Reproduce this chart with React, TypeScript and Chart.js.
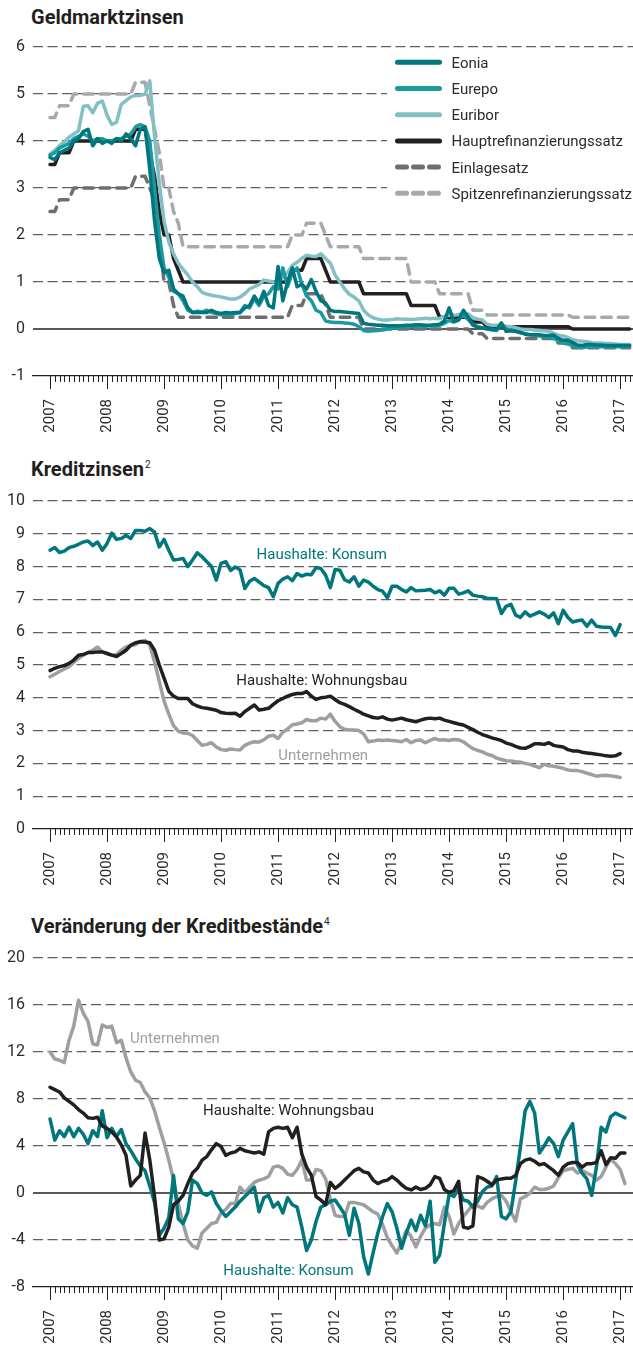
import React, { useEffect, useRef } from 'react';
import { Chart, registerables } from 'chart.js';

Chart.register(...registerables);

const FONT = 'Roboto, "Noto Sans", sans-serif';
const TEXT = '#2b2b2b';
const AXIS = '#231f20';
const GRID = '#5f6062';

const TEAL_DARK = '#00767d';
const TEAL_MID = '#1a9aa0';
const TEAL_LIGHT = '#82c0c5';
const BLACK = '#231f20';
const GRAY_DARK = '#6d6e71';
const GRAY_LIGHT = '#a7a9ac';
const GRAY_LINE = '#9d9fa2';

// x axis: months since January 2007
const yearLabels = ['2007', '2008', '2009', '2010', '2011', '2012', '2013', '2014', '2015', '2016', '2017'];
const X_MIN = -3.58;
const X_MAX = 122.7;
const LAST_MONTH_TICK = 122;

// ---------- Geldmarktzinsen (monthly, Jan 2007 - Mar 2017) ----------
const eonia = [
  3.65, 3.6, 3.75, 3.8, 3.85, 4.0, 4.05, 4.2, 4.25, 3.9, 4.05, 3.95,
  4.0, 3.95, 4.05, 4.0, 4.15, 4.05, 3.9, 4.25, 4.3, 3.4, 2.3, 1.5,
  1.2, 1.25, 0.85, 0.75, 0.7, 0.45, 0.35, 0.35, 0.35, 0.35, 0.4, 0.35,
  0.33, 0.35, 0.34, 0.35, 0.35, 0.45, 0.5, 0.7, 0.55, 0.8, 0.5, 0.45,
  1.33, 0.6, 1.0, 1.3, 0.9, 0.95, 0.85, 1.05, 0.8, 0.6, 0.55, 0.4,
  0.37, 0.37, 0.36, 0.35, 0.34, 0.33, 0.12, 0.1, 0.09, 0.08, 0.08, 0.07,
  0.07, 0.07, 0.07, 0.08, 0.08, 0.09, 0.09, 0.08, 0.08, 0.09, 0.1, 0.17,
  0.45, 0.16, 0.19, 0.4, 0.25, 0.08, 0.04, 0.02, 0.01, 0.0, -0.01, 0.13,
  -0.05, -0.04, -0.05, -0.07, -0.11, -0.12, -0.12, -0.12, -0.14, -0.14, -0.13, -0.2,
  -0.24, -0.24, -0.29, -0.34, -0.35, -0.33, -0.33, -0.34, -0.34, -0.35, -0.35, -0.35,
  -0.35, -0.35, -0.35,
];
const eurepo = [
  3.7, 3.75, 3.85, 3.9, 3.95, 4.05, 4.1, 4.15, 4.1, 4.0, 4.05, 4.05,
  4.0, 4.0, 4.05, 4.05, 4.1, 4.15, 4.3, 4.35, 4.3, 4.0, 3.0, 2.0,
  1.3, 1.1, 0.8, 0.75, 0.6, 0.4, 0.35, 0.38, 0.36, 0.4, 0.35, 0.33,
  0.3, 0.32, 0.3, 0.33, 0.35, 0.5, 0.45, 0.65, 0.5, 0.7, 0.75, 0.9,
  0.85, 1.3, 0.9, 1.2, 1.3, 0.95, 0.7, 0.6, 0.4, 0.35, 0.17, 0.15,
  0.14, 0.14, 0.13, 0.12, 0.1, 0.05, -0.03, -0.05, -0.04, -0.03, -0.02, 0.0,
  0.02, 0.03, 0.04, 0.05, 0.05, 0.06, 0.05, 0.06, 0.07, 0.07, 0.08, 0.12,
  0.18, 0.15, 0.2, 0.3, 0.2, 0.1, 0.05, 0.02, 0.0, -0.02, -0.03, 0.1,
  0.0, -0.03, -0.05, -0.08, -0.1, -0.12, -0.13, -0.15, -0.16, -0.17, -0.2, -0.25,
  -0.3, -0.32, -0.35, -0.38, -0.4, -0.38, -0.37, -0.38, -0.37, -0.38, -0.37, -0.38,
  -0.37, -0.38, -0.36,
];
const euribor = [
  3.72, 3.8, 3.9, 3.98, 4.08, 4.15, 4.22, 4.74, 4.75, 4.6, 4.8, 4.85,
  4.55, 4.35, 4.4, 4.78, 4.86, 4.94, 4.97, 4.97, 5.0, 5.28, 4.1, 3.1,
  2.3, 1.85, 1.6, 1.4, 1.27, 1.15, 1.0, 0.9, 0.78, 0.74, 0.72, 0.7,
  0.68, 0.66, 0.64, 0.64, 0.68, 0.75, 0.85, 0.9, 0.95, 1.04, 1.02, 1.0,
  0.97, 1.1, 1.2, 1.35, 1.42, 1.5, 1.57, 1.55, 1.54, 1.6, 1.5, 1.4,
  1.15, 1.0, 0.85, 0.74, 0.68, 0.6, 0.4, 0.3, 0.24, 0.21, 0.19, 0.19,
  0.2, 0.22, 0.21, 0.21, 0.2, 0.21, 0.22, 0.23, 0.22, 0.23, 0.22, 0.27,
  0.29, 0.29, 0.31, 0.33, 0.32, 0.24, 0.21, 0.19, 0.1, 0.08, 0.08, 0.08,
  0.06, 0.05, 0.03, 0.0, -0.01, -0.01, -0.02, -0.03, -0.04, -0.05, -0.09, -0.13,
  -0.15, -0.18, -0.23, -0.25, -0.26, -0.27, -0.29, -0.3, -0.3, -0.31, -0.31, -0.32,
  -0.33, -0.33, -0.33,
];
const hauptrefi = [
  3.5, 3.5, 3.75, 3.75, 3.75, 4.0, 4.0, 4.0, 4.0, 4.0, 4.0, 4.0,
  4.0, 4.0, 4.0, 4.0, 4.0, 4.0, 4.25, 4.25, 4.25, 3.75, 3.25, 2.5,
  2.0, 2.0, 1.5, 1.25, 1.0, 1.0, 1.0, 1.0, 1.0, 1.0, 1.0, 1.0,
  1.0, 1.0, 1.0, 1.0, 1.0, 1.0, 1.0, 1.0, 1.0, 1.0, 1.0, 1.0,
  1.0, 1.0, 1.0, 1.25, 1.25, 1.25, 1.5, 1.5, 1.5, 1.5, 1.25, 1.0,
  1.0, 1.0, 1.0, 1.0, 1.0, 1.0, 0.75, 0.75, 0.75, 0.75, 0.75, 0.75,
  0.75, 0.75, 0.75, 0.75, 0.5, 0.5, 0.5, 0.5, 0.5, 0.5, 0.25, 0.25,
  0.25, 0.25, 0.25, 0.25, 0.25, 0.15, 0.15, 0.15, 0.05, 0.05, 0.05, 0.05,
  0.05, 0.05, 0.05, 0.05, 0.05, 0.05, 0.05, 0.05, 0.05, 0.05, 0.05, 0.05,
  0.05, 0.05, 0.0, 0.0, 0.0, 0.0, 0.0, 0.0, 0.0, 0.0, 0.0, 0.0,
  0.0, 0.0, 0.0,
];
const einlage = [
  2.5, 2.5, 2.75, 2.75, 2.75, 3.0, 3.0, 3.0, 3.0, 3.0, 3.0, 3.0,
  3.0, 3.0, 3.0, 3.0, 3.0, 3.0, 3.25, 3.25, 3.25, 3.0, 2.75, 2.0,
  1.0, 1.0, 0.5, 0.25, 0.25, 0.25, 0.25, 0.25, 0.25, 0.25, 0.25, 0.25,
  0.25, 0.25, 0.25, 0.25, 0.25, 0.25, 0.25, 0.25, 0.25, 0.25, 0.25, 0.25,
  0.25, 0.25, 0.25, 0.5, 0.5, 0.5, 0.75, 0.75, 0.75, 0.75, 0.5, 0.25,
  0.25, 0.25, 0.25, 0.25, 0.25, 0.25, 0.0, 0.0, 0.0, 0.0, 0.0, 0.0,
  0.0, 0.0, 0.0, 0.0, 0.0, 0.0, 0.0, 0.0, 0.0, 0.0, 0.0, 0.0,
  0.0, 0.0, 0.0, 0.0, 0.0, -0.1, -0.1, -0.1, -0.2, -0.2, -0.2, -0.2,
  -0.2, -0.2, -0.2, -0.2, -0.2, -0.2, -0.2, -0.2, -0.2, -0.2, -0.2, -0.3,
  -0.3, -0.3, -0.4, -0.4, -0.4, -0.4, -0.4, -0.4, -0.4, -0.4, -0.4, -0.4,
  -0.4, -0.4, -0.4,
];
const spitzenrefi = [
  4.5, 4.5, 4.75, 4.75, 4.75, 5.0, 5.0, 5.0, 5.0, 5.0, 5.0, 5.0,
  5.0, 5.0, 5.0, 5.0, 5.0, 5.0, 5.25, 5.25, 5.25, 4.75, 4.25, 3.75,
  3.0, 3.0, 2.5, 2.25, 1.75, 1.75, 1.75, 1.75, 1.75, 1.75, 1.75, 1.75,
  1.75, 1.75, 1.75, 1.75, 1.75, 1.75, 1.75, 1.75, 1.75, 1.75, 1.75, 1.75,
  1.75, 1.75, 1.75, 2.0, 2.0, 2.0, 2.25, 2.25, 2.25, 2.25, 2.0, 1.75,
  1.75, 1.75, 1.75, 1.75, 1.75, 1.75, 1.5, 1.5, 1.5, 1.5, 1.5, 1.5,
  1.5, 1.5, 1.5, 1.5, 1.0, 1.0, 1.0, 1.0, 1.0, 1.0, 0.75, 0.75,
  0.75, 0.75, 0.75, 0.75, 0.75, 0.4, 0.4, 0.4, 0.3, 0.3, 0.3, 0.3,
  0.3, 0.3, 0.3, 0.3, 0.3, 0.3, 0.3, 0.3, 0.3, 0.3, 0.3, 0.3,
  0.3, 0.3, 0.25, 0.25, 0.25, 0.25, 0.25, 0.25, 0.25, 0.25, 0.25, 0.25,
  0.25, 0.25, 0.25,
];

// ---------- Kreditzinsen (monthly, Jan 2007 - Jan 2017) ----------
const zinsKonsum = [
  8.5, 8.58, 8.43, 8.47, 8.58, 8.62, 8.68, 8.75, 8.78, 8.64, 8.75, 8.5,
  8.7, 9.02, 8.83, 8.86, 8.95, 8.86, 9.1, 9.1, 9.08, 9.16, 9.05, 8.6,
  8.83, 8.5, 8.2, 8.22, 8.25, 8.0, 8.2, 8.42, 8.3, 8.15, 8.0, 7.59,
  8.1, 8.15, 7.88, 7.99, 7.9, 7.33, 7.55, 7.64, 7.53, 7.42, 7.36, 7.08,
  7.49, 7.62, 7.69, 7.57, 7.79, 7.71, 7.77, 7.75, 7.97, 7.94, 7.74, 7.36,
  7.91, 7.89, 7.6, 7.53, 7.69, 7.4, 7.59, 7.53, 7.4, 7.3, 7.25, 7.05,
  7.4, 7.4, 7.3, 7.23, 7.36, 7.26, 7.27, 7.28, 7.3, 7.2, 7.26, 7.13,
  7.34, 7.34, 7.16, 7.2, 7.26, 7.13, 7.1, 7.08, 7.03, 7.03, 7.02, 6.57,
  6.79, 6.85, 6.52, 6.45, 6.62, 6.49, 6.55, 6.62, 6.55, 6.45, 6.59, 6.26,
  6.67, 6.45, 6.31, 6.35, 6.37, 6.18, 6.37, 6.18, 6.16, 6.15, 6.14, 5.9,
  6.23,
];
const zinsWohnungsbau = [
  4.83, 4.9, 4.95, 4.98, 5.05, 5.15, 5.3, 5.32, 5.38, 5.38, 5.4, 5.4,
  5.35, 5.3, 5.26, 5.35, 5.45, 5.6, 5.68, 5.71, 5.7, 5.68, 5.45, 5.0,
  4.6, 4.2, 4.05, 3.98, 3.98, 3.98, 3.82, 3.75, 3.7, 3.68, 3.65, 3.62,
  3.55, 3.53, 3.52, 3.53, 3.44, 3.58, 3.68, 3.78, 3.63, 3.65, 3.68, 3.8,
  3.91, 3.98, 4.05, 4.1, 4.13, 4.13, 4.19, 4.05, 3.95, 4.0, 4.02, 4.05,
  3.95, 3.85, 3.8, 3.73, 3.65, 3.58, 3.5, 3.45, 3.4, 3.38, 3.42, 3.35,
  3.32, 3.35, 3.38, 3.33, 3.3, 3.27, 3.32, 3.36, 3.38, 3.36, 3.38, 3.32,
  3.28, 3.24, 3.2, 3.17, 3.1, 3.03, 2.95, 2.88, 2.83, 2.78, 2.74, 2.7,
  2.62, 2.58, 2.52, 2.47, 2.46, 2.52, 2.6, 2.6, 2.58, 2.63, 2.55, 2.52,
  2.5, 2.42, 2.38, 2.38, 2.34, 2.32, 2.3, 2.28, 2.26, 2.23, 2.22, 2.23,
  2.3,
];
const zinsUnternehmen = [
  4.64, 4.72, 4.8, 4.88, 4.95, 5.08, 5.2, 5.3, 5.38, 5.45, 5.55, 5.4,
  5.35, 5.3, 5.32, 5.45, 5.55, 5.6, 5.62, 5.72, 5.75, 5.6, 5.1, 4.5,
  3.9, 3.5, 3.15, 2.98, 2.93, 2.92, 2.85, 2.7, 2.55, 2.58, 2.63, 2.5,
  2.42, 2.4, 2.44, 2.42, 2.41, 2.55, 2.62, 2.66, 2.65, 2.72, 2.83, 2.86,
  2.76, 2.95, 3.05, 3.18, 3.2, 3.24, 3.34, 3.3, 3.3, 3.38, 3.35, 3.5,
  3.28, 3.12, 3.04, 3.02, 3.02, 3.0, 2.9, 2.66, 2.68, 2.71, 2.7, 2.71,
  2.7, 2.68, 2.66, 2.73, 2.63, 2.7, 2.71, 2.63, 2.7, 2.76, 2.71, 2.72,
  2.7, 2.73, 2.72, 2.66, 2.55, 2.45, 2.4, 2.35, 2.28, 2.24, 2.16, 2.12,
  2.08, 2.07, 2.05, 2.04, 2.0, 1.97, 1.92, 1.87, 1.97, 1.93, 1.91, 1.88,
  1.85, 1.8, 1.78, 1.78, 1.75, 1.7, 1.66, 1.61, 1.63, 1.64, 1.62, 1.6,
  1.57,
];

// ---------- Veraenderung der Kreditbestaende (monthly, Jan 2007 - Feb 2017) ----------
const bestandWohnungsbau = [
  9.0, 8.8, 8.6, 8.1, 7.8, 7.5, 7.1, 6.8, 6.4, 6.35, 6.45, 5.7,
  5.5, 5.2, 4.75, 4.1, 3.2, 0.6, 1.1, 1.5, 5.1, 2.8, -0.3, -4.0,
  -3.9, -2.9, -1.0, -0.7, -0.2, 0.8, 1.7, 2.1, 2.8, 3.1, 3.7, 4.2,
  3.95, 3.2, 3.4, 3.5, 3.8, 3.6, 3.5, 3.4, 3.5, 3.3, 5.2, 5.5,
  5.6, 5.5, 5.6, 4.7, 5.6, 3.3, 2.2, 1.5, -0.3, -0.6, -1.0, 0.9,
  0.4, 0.7, 1.1, 1.5, 1.9, 2.1, 1.8, 1.7, 1.1, 0.8, 1.0, 1.1,
  1.4, 1.1, 0.7, 0.4, 0.26, 0.5, 0.3, 0.4, 0.7, 1.4, 1.25, 0.3,
  0.05, 0.2, 1.0, -2.9, -3.0, -2.8, 1.4, 1.25, 1.0, 0.7, 1.1, 1.2,
  1.25, 1.25, 1.5, 2.5, 2.8, 2.9, 2.7, 2.4, 2.5, 2.2, 1.9, 1.5,
  2.2, 2.5, 2.6, 2.6, 2.2, 2.5, 2.5, 2.6, 3.6, 2.4, 3.0, 2.95,
  3.4, 3.4,
];
const bestandKonsum = [
  6.3, 4.5, 5.3, 4.8, 5.6, 4.8, 5.5, 5.0, 4.2, 5.3, 4.8, 7.0,
  4.7, 5.5, 4.8, 5.4, 4.2, 3.6, 2.9, 2.3, 1.9, 0.6, -0.8, -3.6,
  -3.0, -2.1, 1.5, -2.2, -2.6, -1.6, 1.1, 0.8, 0.0, -0.2, 0.1, -0.9,
  -1.5, -2.0, -1.6, -1.2, -0.7, -0.3, 0.1, 0.5, -1.6, -0.4, -0.2, -1.2,
  -0.8, -1.7, -0.4, -1.0, -1.2, -2.9, -4.9, -4.0, -2.4, -1.2, -1.0, -0.7,
  -0.6, -1.2, -1.8, -3.6, -1.3, -2.6, -5.4, -6.9, -5.1, -3.4, -2.0, -0.9,
  -1.6, -3.0, -4.7, -3.4, -2.3, -3.2, -1.9, -2.8, -0.7, -5.9, -5.3, -2.6,
  -0.1, -0.3, 0.4, -0.6, -0.7, -1.2, -0.7, 0.1, 0.5, 0.6, 1.4, -2.0,
  -2.2, -1.6, 1.0, 3.9, 7.0, 7.8, 6.8, 3.4, 4.0, 4.7, 4.2, 3.1,
  4.5, 5.2, 5.9, 2.4, 1.7, 1.2, -0.2, 2.2, 5.6, 5.2, 6.5, 6.8,
  6.6, 6.4,
];
const bestandUnternehmen = [
  12.0, 11.4, 11.3, 11.1, 13.0, 14.2, 16.4, 15.3, 14.6, 12.7, 12.6, 14.3,
  14.1, 14.2, 12.8, 13.0, 11.5, 10.3, 9.6, 9.4, 8.6, 8.1, 7.0, 5.6,
  4.3, 2.8, 1.1, -0.9, -2.6, -4.0, -4.5, -4.7, -3.4, -3.0, -2.6, -2.5,
  -1.7, -1.4, -0.9, -0.9, 0.5, 0.0, 0.5, 0.9, 1.1, 1.2, 1.4, 2.2,
  2.3, 2.1, 1.6, 1.5, 2.0, 2.8, 1.1, 1.1, 2.0, 1.9, 1.2, -0.5,
  -1.9, -2.0, -2.0, -0.8, -0.8, -0.9, -1.0, -1.3, -1.6, -1.8, -2.7, -3.8,
  -4.5, -5.1, -4.2, -3.2, -3.7, -4.6, -3.7, -3.0, -2.7, -2.6, -2.7, -1.2,
  -2.0, -3.5, -2.6, -2.0, -1.5, -1.0, -1.1, -1.3, -0.8, -0.5, -0.3, -0.2,
  -0.7, -1.6, -2.4, -0.5, -0.3, 0.0, 0.5, 0.3, 0.3, 0.4, 0.6, 1.3,
  1.9, 2.0, 2.1, 1.7, 1.9, 1.7, 1.5, 1.1, 1.4, 2.2, 2.9, 2.5,
  2.0, 0.8,
];

type Series = { label: string; data: number[]; color: string; width: number; dash?: number[] };
type Note = { text: string; x: number; y: number; color: string };

const DASH = [9.5, 7];
const TEXT_SIZE = 15;

const zeroLinePlugin = {
  id: 'zeroLine',
  beforeDatasetsDraw(chart: any) {
    const ys = chart.scales.y;
    if (ys.min >= 0) return;
    const { left, right } = chart.chartArea;
    const py = ys.getPixelForValue(0);
    const ctx = chart.ctx;
    ctx.save();
    ctx.strokeStyle = AXIS;
    ctx.lineWidth = 1.3;
    ctx.beginPath();
    ctx.moveTo(left, py);
    ctx.lineTo(right, py);
    ctx.stroke();
    ctx.restore();
  },
};

const monthTicksPlugin = {
  id: 'monthTicks',
  afterDraw(chart: any) {
    const xs = chart.scales.x;
    const bottom = chart.chartArea.bottom;
    const ctx = chart.ctx;
    ctx.save();
    ctx.strokeStyle = AXIS;
    ctx.lineWidth = 1;
    ctx.beginPath();
    for (let m = 0; m <= LAST_MONTH_TICK; m++) {
      const px = Math.round(xs.getPixelForValue(m)) + 0.5;
      const len = m % 12 === 0 ? 13 : 6;
      ctx.moveTo(px, bottom);
      ctx.lineTo(px, bottom + len);
    }
    ctx.stroke();
    ctx.restore();
  },
};

const notesPlugin = (notes: Note[]) => ({
  id: 'notes',
  afterDatasetsDraw(chart: any) {
    const ctx = chart.ctx;
    const xs = chart.scales.x;
    const ys = chart.scales.y;
    ctx.save();
    ctx.font = `${TEXT_SIZE}px ${FONT}`;
    ctx.textAlign = 'center';
    ctx.textBaseline = 'alphabetic';
    notes.forEach((n) => {
      ctx.fillStyle = n.color;
      ctx.fillText(n.text, xs.getPixelForValue(n.x), ys.getPixelForValue(n.y) + 5.4);
    });
    ctx.restore();
  },
});

const legendPlugin = {
  id: 'boxLegend',
  afterDatasetsDraw(chart: any) {
    const ctx = chart.ctx;
    ctx.save();
    ctx.fillStyle = '#ffffff';
    ctx.fillRect(387, 50, 246, 157);
    chart.data.datasets.forEach((ds: any, i: number) => {
      const y = 62.3 + i * 26.2;
      ctx.beginPath();
      ctx.lineWidth = 5;
      ctx.lineCap = 'round';
      ctx.strokeStyle = ds.borderColor;
      const dashed = ds.borderDash && ds.borderDash.length > 0;
      ctx.setLineDash(dashed ? [9, 7] : []);
      ctx.moveTo(397.5, y);
      ctx.lineTo(dashed ? 438.5 : 439.5, y);
      ctx.stroke();
      ctx.setLineDash([]);
      ctx.fillStyle = TEXT;
      ctx.font = `${TEXT_SIZE}px ${FONT}`;
      ctx.textAlign = 'left';
      ctx.textBaseline = 'alphabetic';
      ctx.fillText(ds.label, 451.5, y + 5.4);
    });
    ctx.restore();
  },
};

function buildConfig(p: {
  series: Series[];
  yMin: number;
  yMax: number;
  yStep: number;
  areaTop: number;
  axisHeight: number;
  notes: Note[];
  legend?: boolean;
}): any {
  const plugins: any[] = [zeroLinePlugin, monthTicksPlugin, notesPlugin(p.notes)];
  if (p.legend) plugins.push(legendPlugin);
  return {
    type: 'line',
    data: {
      datasets: p.series.map((s) => ({
        label: s.label,
        data: s.data.map((v, i) => ({ x: i, y: v })),
        borderColor: s.color,
        backgroundColor: s.color,
        borderWidth: s.width,
        borderDash: s.dash || [],
        borderCapStyle: 'round',
        borderJoinStyle: 'round',
        pointRadius: 0,
        pointHoverRadius: 0,
        fill: false,
        tension: 0,
      })),
    },
    options: {
      responsive: false,
      animation: false,
      devicePixelRatio: 1,
      events: [],
      layout: { padding: { top: p.areaTop, left: 0, right: 0, bottom: 0 } },
      plugins: { legend: { display: false }, tooltip: { enabled: false }, title: { display: false } },
      scales: {
        x: {
          type: 'linear',
          min: X_MIN,
          max: X_MAX,
          grid: { display: false },
          border: { display: true, color: AXIS, width: 1.3 },
          ticks: {
            autoSkip: false,
            maxRotation: 90,
            minRotation: 90,
            padding: 15,
            color: TEXT,
            font: { family: FONT, size: TEXT_SIZE },
            callback: (v: number) => yearLabels[Math.round(v / 12)] ?? '',
          },
          afterBuildTicks: (axis: any) => {
            axis.ticks = yearLabels.map((_, i) => ({ value: i * 12 }));
          },
          afterFit: (axis: any) => {
            axis.height = p.axisHeight;
            axis.paddingLeft = 0;
            axis.paddingRight = 0;
          },
        },
        y: {
          type: 'linear',
          min: p.yMin,
          max: p.yMax,
          ticks: {
            stepSize: p.yStep,
            padding: 8,
            color: TEXT,
            font: { family: FONT, size: TEXT_SIZE + 1 },
            callback: (v: number) => String(v),
          },
          grid: {
            drawTicks: false,
            lineWidth: 1.2,
            color: (ctx: any) => {
              const v = ctx.tick ? ctx.tick.value : null;
              return v === 0 || v === p.yMin ? 'rgba(0,0,0,0)' : GRID;
            },
          },
          border: { display: false, dash: [10, 4.5] },
          afterFit: (axis: any) => {
            axis.width = 33;
          },
        },
      },
    },
    plugins,
  };
}

function ChartCanvas({ top, height, config }: { top: number; height: number; config: () => any }) {
  const ref = useRef<HTMLCanvasElement>(null);
  useEffect(() => {
    const chart = new Chart(ref.current as HTMLCanvasElement, config());
    return () => chart.destroy();
  }, []);
  return (
    <canvas
      ref={ref}
      width={633}
      height={height}
      style={{ position: 'absolute', left: 0, top, width: 633, height, display: 'block' }}
    />
  );
}

const titleStyle = (top: number): React.CSSProperties => ({
  position: 'absolute',
  left: 31,
  top,
  fontFamily: FONT,
  fontWeight: 'bold',
  fontSize: 20,
  lineHeight: '20px',
  color: '#231f20',
  whiteSpace: 'nowrap',
});

const supStyle: React.CSSProperties = {
  fontSize: 10,
  fontWeight: 'normal',
  position: 'relative',
  top: -8,
  marginLeft: 1,
};

export default function App() {
  const chart1 = () =>
    buildConfig({
      series: [
        { label: 'Eonia', data: eonia, color: TEAL_DARK, width: 3.5 },
        { label: 'Eurepo', data: eurepo, color: TEAL_MID, width: 3.5 },
        { label: 'Euribor', data: euribor, color: TEAL_LIGHT, width: 3.5 },
        { label: 'Hauptrefinanzierungssatz', data: hauptrefi, color: BLACK, width: 3.5 },
        { label: 'Einlagesatz', data: einlage, color: GRAY_DARK, width: 3.5, dash: DASH },
        { label: 'Spitzenrefinanzierungssatz', data: spitzenrefi, color: GRAY_LIGHT, width: 3.5, dash: DASH },
      ],
      yMin: -1,
      yMax: 6,
      yStep: 1,
      areaTop: 47,
      axisHeight: 56,
      notes: [],
      legend: true,
    });
  const chart2 = () =>
    buildConfig({
      series: [
        { label: 'Haushalte: Konsum', data: zinsKonsum, color: TEAL_DARK, width: 3.5 },
        { label: 'Haushalte: Wohnungsbau', data: zinsWohnungsbau, color: BLACK, width: 3.5 },
        { label: 'Unternehmen', data: zinsUnternehmen, color: GRAY_LINE, width: 3.5 },
      ],
      yMin: 0,
      yMax: 10,
      yStep: 1,
      areaTop: 61,
      axisHeight: 59,
      notes: [
        { text: 'Haushalte: Konsum', x: 57.2, y: 8.41, color: TEAL_DARK },
        { text: 'Haushalte: Wohnungsbau', x: 57.2, y: 4.57, color: BLACK },
        { text: 'Unternehmen', x: 57.5, y: 2.26, color: GRAY_LINE },
      ],
    });
  const chart3 = () =>
    buildConfig({
      series: [
        { label: 'Haushalte: Wohnungsbau', data: bestandWohnungsbau, color: BLACK, width: 3.5 },
        { label: 'Haushalte: Konsum', data: bestandKonsum, color: TEAL_DARK, width: 3.5 },
        { label: 'Unternehmen', data: bestandUnternehmen, color: GRAY_LINE, width: 3.5 },
      ],
      yMin: -8,
      yMax: 20,
      yStep: 4,
      areaTop: 68,
      axisHeight: 59,
      notes: [
        { text: 'Unternehmen', x: 26.3, y: 13.2, color: GRAY_LINE },
        { text: 'Haushalte: Wohnungsbau', x: 50.2, y: 7.08, color: BLACK },
        { text: 'Haushalte: Konsum', x: 50.2, y: -6.5, color: TEAL_DARK },
      ],
    });

  return (
    <div style={{ position: 'absolute', left: 0, top: 0, width: 633, height: 1346, background: '#ffffff', overflow: 'hidden' }}>
      <div style={titleStyle(7.2)}>Geldmarktzinsen</div>
      <ChartCanvas top={0} height={432} config={chart1} />
      <div style={titleStyle(459.2)}>
        Kreditzinsen<span style={supStyle}>2</span>
      </div>
      <ChartCanvas top={440} height={448} config={chart2} />
      <div style={titleStyle(916.2)}>
        Veränderung der Kreditbestände<span style={supStyle}>4</span>
      </div>
      <ChartCanvas top={890} height={456} config={chart3} />
    </div>
  );
}
